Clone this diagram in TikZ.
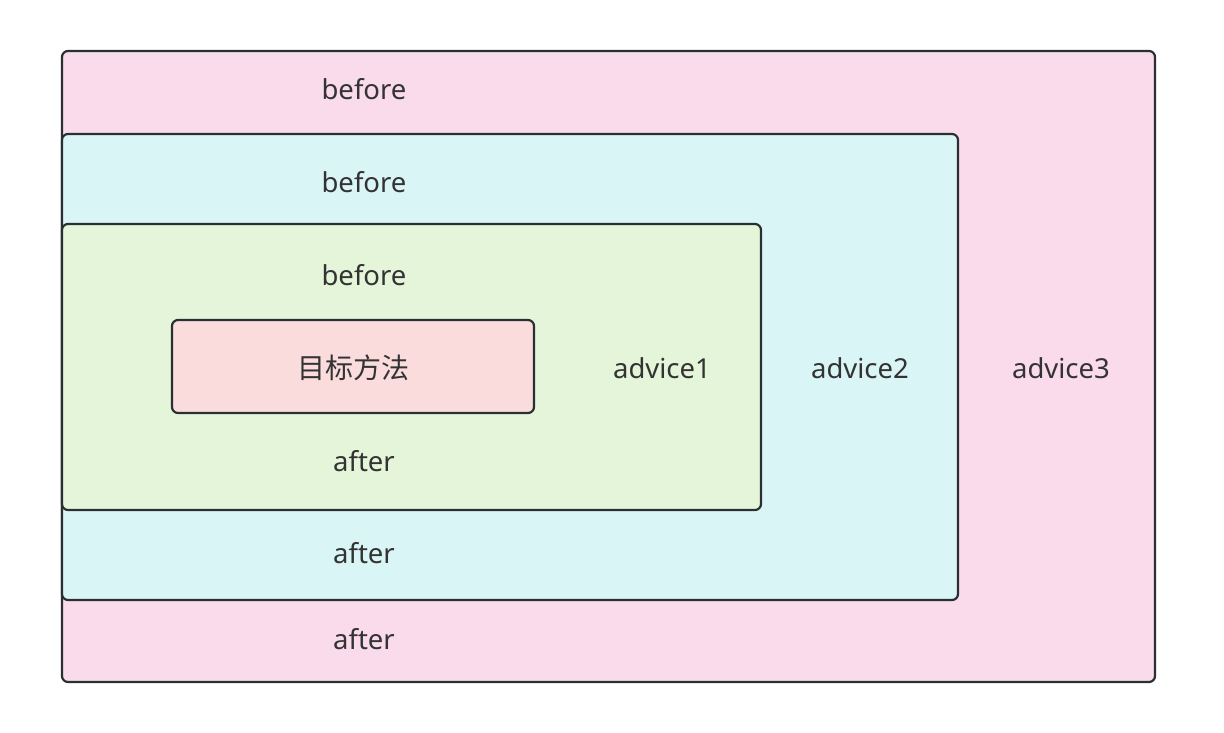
\documentclass[tikz,border=0pt]{standalone}
\usepackage{fontspec}
\setmainfont{Noto Sans}
\newfontfamily\cjkfont{Noto Sans CJK SC}
\definecolor{pinkf}{HTML}{FADBEB}
\definecolor{cyanf}{HTML}{DAF5F5}
\definecolor{greenf}{HTML}{E5F5DA}
\definecolor{redf}{HTML}{FADCDC}
\definecolor{strk}{HTML}{2A2F33}
\definecolor{txt}{HTML}{333333}
\tikzset{
  layer/.style={draw=strk, line width=2.2pt, rounded corners=6pt},
  lbl/.style={text=txt, font=\fontsize{27.5}{32}\selectfont, inner sep=0pt, anchor=center},
  cjklbl/.style={text=txt, font=\cjkfont\fontsize{28}{32}\selectfont, inner sep=0pt, anchor=center}
}
\begin{document}
\begin{tikzpicture}[x=1pt,y=-1pt]
\useasboundingbox (0,0) rectangle (1224,732);
\fill[white] (0,0) rectangle (1224,732);
\draw[layer, fill=pinkf] (62,51) rectangle (1155,682);
\draw[layer, fill=cyanf] (62,134) rectangle (958,600);
\draw[layer, fill=greenf] (62,224) rectangle (761,510);
\draw[layer, fill=redf] (172,320) rectangle (534,413);
\node[lbl] (b3) at (364,89) {before};
\node[lbl] (b2) at (364,182) {before};
\node[lbl] (b1) at (364,275) {before};
\node[cjklbl] (m) at (353,368) {目标方法};
\node[lbl] (a1) at (364,461) {after};
\node[lbl] (a2) at (364,553) {after};
\node[lbl] (a3) at (364,639) {after};
\node[lbl] (ad1) at (662,368) {advice1};
\node[lbl] (ad2) at (860,368) {advice2};
\node[lbl] (ad3) at (1061,368) {advice3};
\end{tikzpicture}
\end{document}
